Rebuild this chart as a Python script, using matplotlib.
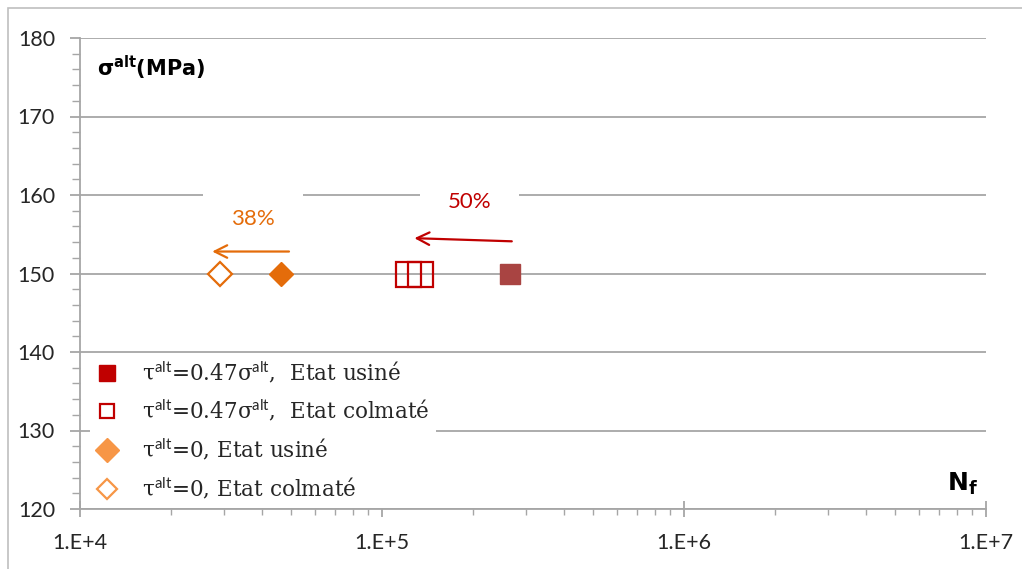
import matplotlib
matplotlib.use("Agg")
import matplotlib.pyplot as plt
from matplotlib.lines import Line2D
from matplotlib.patches import Rectangle
from matplotlib.ticker import FixedLocator, MultipleLocator, LogLocator, NullFormatter

plt.rcParams["mathtext.fontset"] = "custom"
plt.rcParams["mathtext.rm"] = "DejaVu Serif"
plt.rcParams["mathtext.it"] = "DejaVu Serif:italic"
plt.rcParams["mathtext.bf"] = "DejaVu Serif:bold"
plt.rcParams["mathtext.sf"] = "Lato"

SANS = ["Lato", "DejaVu Sans"]

# données
N_usine_047 = [2.65e5]
S_usine_047 = [150]
N_colmate_047 = [1.22e5, 1.34e5]
S_colmate_047 = [150, 150]
N_usine_0 = [4.63e4]
S_usine_0 = [150]
N_colmate_0 = [2.91e4]
S_colmate_0 = [150]

labels = [
    r"$\mathrm{τ}^{\mathsf{alt}}$=0.47$\mathrm{σ}^{\mathsf{alt}}$,  Etat usiné",
    r"$\mathrm{τ}^{\mathsf{alt}}$=0.47$\mathrm{σ}^{\mathsf{alt}}$,  Etat colmaté",
    r"$\mathrm{τ}^{\mathsf{alt}}$=0, Etat usiné",
    r"$\mathrm{τ}^{\mathsf{alt}}$=0, Etat colmaté",
]
xticks = [1e4, 1e5, 1e6, 1e7]
xticklabels = ["1.E+4", "1.E+5", "1.E+6", "1.E+7"]
yticks = [120, 130, 140, 150, 160, 170, 180]

# flèches : (départ, arrivée) et textes
arrow_038 = ((4.92e4, 152.8), (2.74e4, 152.8))
arrow_050 = ((2.69e5, 154.1), (1.28e5, 154.5))
txt_038 = (3.74e4, 156.9, "38%")
txt_050 = (1.95e5, 159.1, "50%")

RED = "#C00000"
BROWN = "#A94442"
ORANGE = "#E46C0A"
LORANGE = "#F79646"
GRID = "#A6A6A6"
TXT = "#262626"

fig = plt.figure(figsize=(10.22, 5.69), dpi=100)
fig.patches.append(Rectangle((8 / 1022, -0.01), 1.0, (569 - 8) / 569 + 0.01,
                             transform=fig.transFigure, fill=False,
                             edgecolor="#BFBFBF", linewidth=1.2))
ax = fig.add_axes([80 / 1022, 60 / 569, 906 / 1022, 471 / 569])

ax.set_xscale("log")
ax.set_xlim(1e4, 1e7)
ax.set_ylim(120, 180)

ax.yaxis.set_major_locator(FixedLocator(yticks))
ax.yaxis.set_minor_locator(MultipleLocator(2))
ax.set_xticks(xticks)
ax.set_xticklabels(xticklabels)
ax.xaxis.set_minor_locator(LogLocator(base=10, subs=range(2, 10)))
ax.xaxis.set_minor_formatter(NullFormatter())

ax.grid(True, axis="y", which="major", color=GRID, linewidth=1.3)
ax.set_axisbelow(True)
for s in ["top", "right"]:
    ax.spines[s].set_visible(False)
for s in ["left", "bottom"]:
    ax.spines[s].set_color(GRID)
    ax.spines[s].set_linewidth(1.3)

ax.tick_params(axis="y", which="major", direction="out", length=7, width=1.3,
               color=GRID, pad=11, labelsize=15.5, labelcolor=TXT)
ax.tick_params(axis="y", which="minor", direction="out", length=6, width=1,
               color=GRID)
ax.tick_params(axis="x", which="major", direction="inout", length=11, width=1.3,
               color=GRID, pad=12, labelsize=15.5, labelcolor=TXT)
ax.tick_params(axis="x", which="minor", direction="out", length=4, width=1,
               color=GRID)
for lab in ax.get_xticklabels() + ax.get_yticklabels():
    lab.set_family(SANS)

# points
ax.plot(N_usine_047, S_usine_047, "s", ms=15, color=BROWN, mec=BROWN, ls="none", zorder=5)
ax.plot(N_colmate_047, S_colmate_047, "s", ms=18, mfc="none", mec=RED, mew=1.6, ls="none", zorder=5)
ax.plot(N_usine_0, S_usine_0, "D", ms=12, color=ORANGE, mec=ORANGE, ls="none", zorder=5)
ax.plot(N_colmate_0, S_colmate_0, "D", ms=12, mfc="white", mec=ORANGE, mew=1.6, ls="none", zorder=5)

# pourcentages (fond blanc qui coupe la grille) puis flèches
for (x, y, t), col in [(txt_038, ORANGE), (txt_050, RED)]:
    ax.text(x, y, t, color=col, fontsize=16, family=SANS, ha="center", va="center",
            zorder=3, bbox=dict(boxstyle="square,pad=1.25", facecolor="white", edgecolor="none"))
for (start, end), col in [(arrow_038, ORANGE), (arrow_050, RED)]:
    ax.annotate("", xy=end, xytext=start, zorder=4,
                arrowprops=dict(arrowstyle="->,head_length=0.9,head_width=0.45",
                                color=col, lw=1.6, shrinkA=0, shrinkB=0))

# titres des axes
ax.text((97 - 80) / 906, (569 - 60 - 68) / 471, r"$\mathbf{σ^{alt}(MPa)}$",
        transform=ax.transAxes, fontsize=15, family=SANS,
        math_fontfamily="dejavusans", ha="left", va="center", color="black")
ax.text((962 - 80) / 906, (569 - 60 - 484) / 471, r"$\mathbf{N_f}$",
        transform=ax.transAxes, fontsize=18, family=SANS,
        math_fontfamily="dejavusans", ha="center", va="center", color="black")

# légende
handles = [
    Line2D([], [], marker="s", ls="none", ms=11.5, color=RED),
    Line2D([], [], marker="s", ls="none", ms=10, mfc="white", mec=RED, mew=1.6),
    Line2D([], [], marker="D", ls="none", ms=12, color=LORANGE),
    Line2D([], [], marker="D", ls="none", ms=10, mfc="white", mec=LORANGE, mew=1.6),
]
leg = ax.legend(handles, labels, loc="upper left",
                bbox_to_anchor=(10 / 906, (569 - 60 - 353) / 471),
                borderaxespad=0, borderpad=0.3, frameon=True, fancybox=False,
                handlelength=1.0, handletextpad=1.1, labelspacing=0.6,
                prop=dict(family="DejaVu Serif", size=15.5))
leg.get_frame().set_edgecolor("none")
leg.get_frame().set_facecolor("white")
leg.get_frame().set_alpha(1)
for t in leg.get_texts():
    t.set_color(TXT)

fig.savefig("out.png", dpi=100)
